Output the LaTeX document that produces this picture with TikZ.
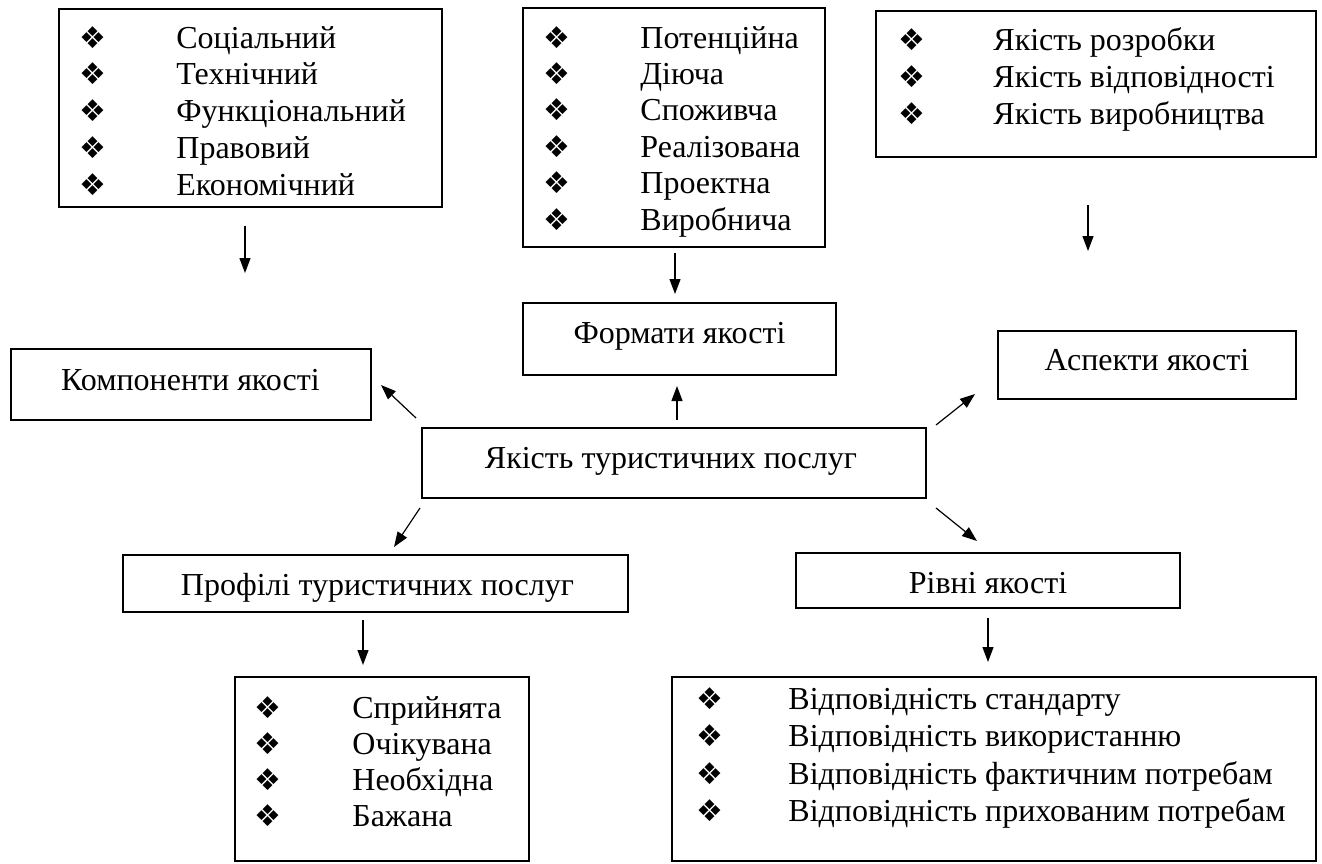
\documentclass[tikz,border=0pt]{standalone}
\usepackage{fontspec}
\setmainfont{Liberation Serif}
\newfontfamily\dejavu{DejaVu Sans}
\usetikzlibrary{arrows.meta,fit}
\tikzset{
  box/.style={draw, line width=1pt, inner sep=0pt},
  lbl/.style={anchor=base, inner sep=0pt},
  item/.style={anchor=base west, inner sep=0pt},
  bul/.style={anchor=base, inner sep=0pt, font=\dejavu\fontsize{15pt}{15pt}\selectfont},
  arr/.style={line width=0.6pt, -{Triangle[length=7.5pt,width=5.5pt]}},
}
\newcommand{\bulsym}{❖}
\begin{document}
\begin{tikzpicture}[x=0.5pt, y=-0.5pt, font=\fontsize{16pt}{19pt}\selectfont]
\useasboundingbox (0,0) rectangle (1322,863);

% ---- top list boxes
\node[box, fit={(59,9) (442,207)}] (complist) {};
\foreach \t [count=\i] in {Соціальний, Технічний, Функціональний, Правовий, Економічний} {
  \node[bul] (cb\i) at (93, {48+36.8*(\i-1)}) {\bulsym};
  \node[item] (ct\i) at (176, {48+36.8*(\i-1)}) {\t};
}

\node[box, fit={(523,8) (825,247)}] (formlist) {};
\foreach \t [count=\i] in {Потенційна, Діюча, Споживча, Реалізована, Проектна, Виробнича} {
  \node[bul] (fb\i) at (557, {48+36.4*(\i-1)}) {\bulsym};
  \node[item] (ft\i) at (640, {48+36.4*(\i-1)}) {\t};
}

\node[box, fit={(876,11) (1316,157)}] (asplist) {};
\foreach \t [count=\i] in {Якість розробки, Якість відповідності, Якість виробництва} {
  \node[bul] (ab\i) at (912, {50+37*(\i-1)}) {\bulsym};
  \node[item] (at\i) at (993, {50+37*(\i-1)}) {\t};
}

% ---- middle boxes
\node[box, fit={(11,349) (371,420)}] (komp) {};
\node[lbl] (kompt) at (190.5,390) {Компоненти якості};

\node[box, fit={(523,303) (836,375)}] (form) {};
\node[lbl] (formt) at (679.5,343) {Формати якості};

\node[box, fit={(422,428) (926,498)}] (yak) {};
\node[lbl] (yakt) at (671,468) {Якість туристичних послуг};

\node[box, fit={(998,331) (1296,399)}] (asp) {};
\node[lbl] (aspt) at (1147,370) {Аспекти якості};

\node[box, fit={(123,555) (628,612)}] (prof) {};
\node[lbl] (proft) at (377.5,595) {Профілі туристичних послуг};

\node[box, fit={(796,553) (1180,608)}] (riv) {};
\node[lbl] (rivt) at (988,593) {Рівні якості};

% ---- bottom list boxes
\node[box, fit={(235,677) (529,861)}] (sprlist) {};
\foreach \t [count=\i] in {Сприйнята, Очікувана, Необхідна, Бажана} {
  \node[bul] (sb\i) at (268, {718+36.3*(\i-1)}) {\bulsym};
  \node[item] (st\i) at (352, {718+36.3*(\i-1)}) {\t};
}

\node[box, fit={(672,677) (1316,861)}] (vidlist) {};
\foreach \t [count=\i] in {Відповідність стандарту, Відповідність використанню, Відповідність фактичним потребам, Відповідність прихованим потребам} {
  \node[bul] (vb\i) at (710, {709+37.5*(\i-1)}) {\bulsym};
  \node[item] (vt\i) at (788, {709+37.5*(\i-1)}) {\t};
}

% ---- connectors
\draw[arr] ([shift={(-5.5,18)}]complist.south) -- ([shift={(-5.5,65)}]complist.south);
\draw[arr] ([shift={(1,5)}]formlist.south) -- ([shift={(-4.5,-8)}]form.north);
\draw[arr] ([shift={(-8,47)}]asplist.south) -- ([shift={(-8,93)}]asplist.south);
\draw[arr] ([shift={(-5,-9)}]yak.north west) -- ([shift={(9,0.5)}]komp.east);
\draw[arr] ([shift={(3,-7)}]yak.north) -- ([shift={(-2.5,10)}]form.south);
\draw[arr] ([shift={(9,-2)}]yak.north east) -- ([shift={(-22,-6)}]asp.south west);
\draw[arr] ([shift={(-1,9)}]yak.south west) -- ([shift={(18.5,-7)}]prof.north);
\draw[arr] ([shift={(9,9)}]yak.south east) -- ([shift={(-11,-11)}]riv.north);
\draw[arr] ([shift={(-12.5,7)}]prof.south) -- ([shift={(-19,-11)}]sprlist.north);
\draw[arr] ([shift={(0,9)}]riv.south) -- ([shift={(-6,-14)}]vidlist.north);
\end{tikzpicture}
\end{document}
